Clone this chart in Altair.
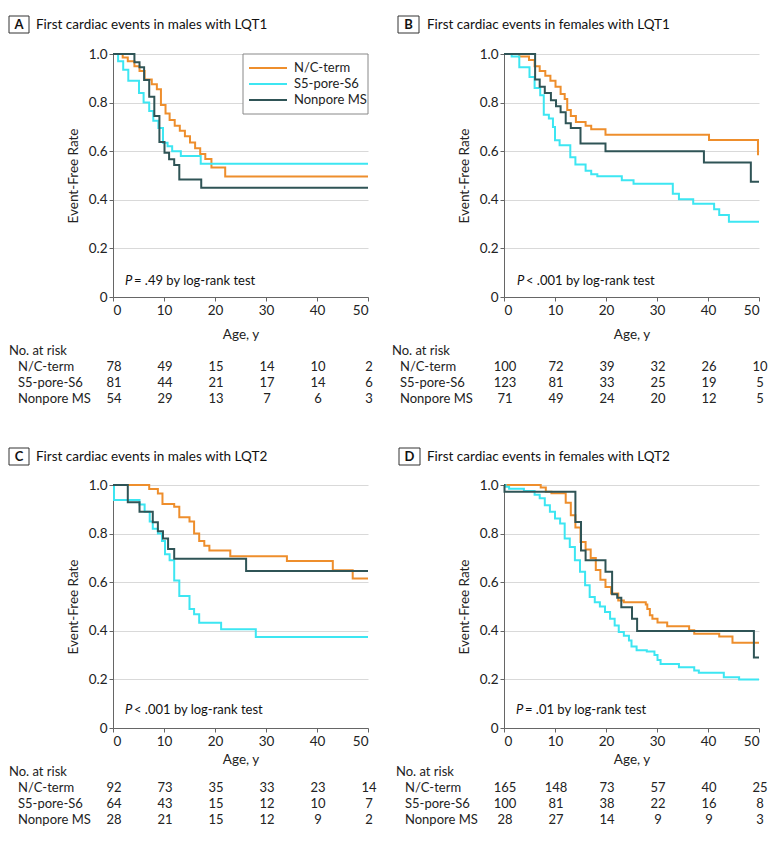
import altair as alt
import pandas as pd

FONT = "Lato"
GROUPS = ["N/C-term", "S5-pore-S6", "Nonpore MS"]
COLORS = ["#EE8E2C", "#3DE6F2", "#2F5456"]
RISK_AGES = [0, 10, 20, 30, 40, 50]

# ---------------- Panel A: males LQT1 ----------------
A_NC_AGE = [0, 1.9, 2.9, 4.2, 5.2, 6.2, 7.6, 8.6, 9.4, 10.3, 11.1, 12.1, 13.1, 14.1, 15.1, 16.1, 17.1, 18.1, 19.3, 22.0, 50]
A_NC_RATE = [1, 0.986, 0.97, 0.95, 0.93, 0.895, 0.876, 0.855, 0.79, 0.755, 0.728, 0.705, 0.684, 0.662, 0.636, 0.612, 0.588, 0.568, 0.533, 0.496, 0.496]
A_S5_AGE = [0, 1.0, 2.0, 3.0, 5.1, 6.0, 7.1, 7.9, 8.9, 9.8, 10.7, 11.6, 13.3, 17.2, 50]
A_S5_RATE = [1, 0.97, 0.935, 0.89, 0.84, 0.80, 0.765, 0.725, 0.695, 0.635, 0.62, 0.60, 0.58, 0.548, 0.548]
A_NP_AGE = [0, 4.2, 5.2, 6.1, 7.1, 8.1, 9.1, 10.1, 11.0, 12.0, 13.0, 17.3, 50]
A_NP_RATE = [1, 0.966, 0.945, 0.893, 0.824, 0.745, 0.638, 0.594, 0.567, 0.543, 0.484, 0.45, 0.45]
A_RISK_NC = [78, 49, 15, 14, 10, 2]
A_RISK_S5 = [81, 44, 21, 17, 14, 6]
A_RISK_NP = [54, 29, 13, 7, 6, 3]

# ---------------- Panel B: females LQT1 ----------------
B_NC_AGE = [0, 3.0, 4.9, 6.0, 7.0, 8.1, 9.1, 10.1, 11.1, 11.9, 12.4, 13.1, 14.1, 16.0, 17.1, 19.9, 40.2, 49.8, 50]
B_NC_RATE = [1, 0.99, 0.975, 0.95, 0.93, 0.91, 0.89, 0.865, 0.835, 0.815, 0.77, 0.745, 0.72, 0.705, 0.69, 0.668, 0.646, 0.587, 0.587]
B_S5_AGE = [0, 1.5, 3.0, 5.0, 6.0, 7.1, 7.8, 8.8, 9.6, 10.0, 10.9, 13.0, 14.0, 16.0, 17.1, 18.3, 23.1, 25.4, 33.1, 34.3, 37.1, 41.2, 42.2, 44.1, 50]
B_S5_RATE = [1, 0.99, 0.945, 0.905, 0.86, 0.83, 0.75, 0.735, 0.70, 0.645, 0.625, 0.575, 0.545, 0.52, 0.505, 0.497, 0.48, 0.466, 0.425, 0.402, 0.384, 0.361, 0.337, 0.31, 0.31]
B_NP_AGE = [0, 6.1, 7.0, 8.0, 9.2, 10.2, 11.1, 12.1, 13.1, 15.0, 19.9, 39.2, 48.4, 50]
B_NP_RATE = [1, 0.895, 0.865, 0.84, 0.81, 0.785, 0.76, 0.715, 0.695, 0.632, 0.60, 0.553, 0.474, 0.474]
B_RISK_NC = [100, 72, 39, 32, 26, 10]
B_RISK_S5 = [123, 81, 33, 25, 19, 5]
B_RISK_NP = [71, 49, 24, 20, 12, 5]

# ---------------- Panel C: males LQT2 ----------------
C_NC_AGE = [0, 7.1, 8.8, 9.7, 12.0, 13.0, 15.0, 15.9, 16.9, 17.9, 18.9, 23.0, 34.1, 43.1, 47.0, 50]
C_NC_RATE = [1, 0.984, 0.965, 0.922, 0.911, 0.867, 0.85, 0.80, 0.77, 0.75, 0.73, 0.707, 0.687, 0.649, 0.615, 0.615]
C_S5_AGE = [0, 0.2, 5.2, 6.2, 7.2, 7.8, 8.8, 9.6, 10.2, 11.1, 12.0, 13.0, 15.0, 15.9, 16.9, 21.2, 28.0, 50]
C_S5_RATE = [1, 0.938, 0.92, 0.89, 0.85, 0.82, 0.80, 0.77, 0.715, 0.69, 0.607, 0.543, 0.49, 0.468, 0.433, 0.406, 0.374, 0.374]
C_NP_AGE = [0, 2.9, 5.2, 7.8, 8.8, 9.8, 10.8, 12.0, 26.1, 50]
C_NP_RATE = [1, 0.929, 0.89, 0.847, 0.81, 0.78, 0.737, 0.696, 0.646, 0.646]
C_RISK_NC = [92, 73, 35, 33, 23, 14]
C_RISK_S5 = [64, 43, 15, 12, 10, 7]
C_RISK_NP = [28, 21, 15, 12, 9, 2]

# ---------------- Panel D: females LQT2 ----------------
D_NC_AGE = [0, 7.2, 8.2, 9.3, 12.1, 13.1, 14.0, 15.0, 16.0, 17.0, 18.0, 18.9, 19.9, 21.0, 22.4, 23.5, 27.8, 28.1, 28.6, 29.1, 30.1, 32.0, 36.3, 37.3, 42.2, 44.8, 50]
D_NC_RATE = [1, 0.99, 0.972, 0.966, 0.927, 0.876, 0.825, 0.765, 0.735, 0.70, 0.65, 0.61, 0.58, 0.553, 0.525, 0.518, 0.508, 0.49, 0.464, 0.45, 0.434, 0.419, 0.402, 0.388, 0.377, 0.351, 0.351]
D_S5_AGE = [0, 0.3, 1.0, 3.9, 6.0, 7.0, 8.0, 9.0, 10.0, 11.0, 11.9, 12.9, 13.9, 14.9, 15.9, 16.8, 17.8, 18.8, 19.8, 20.8, 21.7, 22.5, 23.5, 24.5, 25.0, 26.0, 28.0, 29.5, 30.1, 30.7, 34.3, 37.3, 38.2, 43.1, 46.1, 50]
D_S5_RATE = [1, 0.993, 0.985, 0.975, 0.96, 0.945, 0.917, 0.89, 0.862, 0.842, 0.78, 0.745, 0.69, 0.643, 0.587, 0.539, 0.518, 0.50, 0.477, 0.45, 0.422, 0.395, 0.38, 0.36, 0.335, 0.32, 0.315, 0.30, 0.28, 0.263, 0.25, 0.237, 0.227, 0.209, 0.20, 0.20]
D_NP_AGE = [0, 0.1, 14.0, 15.1, 16.0, 19.9, 21.2, 22.2, 23.0, 25.1, 26.1, 49.0, 50]
D_NP_RATE = [1, 0.972, 0.848, 0.73, 0.69, 0.643, 0.55, 0.536, 0.497, 0.45, 0.399, 0.29, 0.29]
D_RISK_NC = [165, 148, 73, 57, 40, 25]
D_RISK_S5 = [100, 81, 38, 22, 16, 8]
D_RISK_NP = [28, 27, 14, 9, 9, 3]

PANELS = [
    dict(letter="A", title="First cardiac events in males with LQT1", p="= .49 by log-rank test",
         series=[(A_NC_AGE, A_NC_RATE), (A_S5_AGE, A_S5_RATE), (A_NP_AGE, A_NP_RATE)],
         risk=[A_RISK_NC, A_RISK_S5, A_RISK_NP], legend=True,
         box=(-104, -84), ty=-29.5, hx=-104, lx=-95, row0=313, xtp=11, px=12, py=227),
    dict(letter="B", title="First cardiac events in females with LQT1", p="< .001 by log-rank test",
         series=[(B_NC_AGE, B_NC_RATE), (B_S5_AGE, B_S5_RATE), (B_NP_AGE, B_NP_RATE)],
         risk=[B_RISK_NC, B_RISK_S5, B_RISK_NP], legend=False,
         box=(-106, -85), ty=-29.5, hx=-112, lx=-104, row0=313, xtp=11, px=13, py=227),
    dict(letter="C", title="First cardiac events in males with LQT2", p="< .001 by log-rank test",
         series=[(C_NC_AGE, C_NC_RATE), (C_S5_AGE, C_S5_RATE), (C_NP_AGE, C_NP_RATE)],
         risk=[C_RISK_NC, C_RISK_S5, C_RISK_NP], legend=False,
         box=(-104, -84), ty=-28.5, hx=-104, lx=-95, row0=303, xtp=5, px=12, py=225),
    dict(letter="D", title="First cardiac events in females with LQT2", p="= .01 by log-rank test",
         series=[(D_NC_AGE, D_NC_RATE), (D_S5_AGE, D_S5_RATE), (D_NP_AGE, D_NP_RATE)],
         risk=[D_RISK_NC, D_RISK_S5, D_RISK_NP], legend=False,
         box=(-105, -84), ty=-28.5, hx=-108, lx=-99, row0=303, xtp=5, px=12, py=225),
]

W, H = 255, 243
ROW_STEP = 16
TABLE_FS = 13
AXIS_FS = 13.5


def make_panel(cfg):
    km_rows = []
    for g, (ages, rates) in zip(GROUPS, cfg["series"]):
        for a, r in zip(ages, rates):
            km_rows.append({"group": g, "age": a, "rate": r})
    km_df = pd.DataFrame(km_rows)

    risk_rows = []
    for i, (g, counts) in enumerate(zip(GROUPS, cfg["risk"])):
        for a, n in zip(RISK_AGES, counts):
            risk_rows.append({"group": g, "row": i, "age": a, "n": n})
    risk_df = pd.DataFrame(risk_rows)
    label_df = pd.DataFrame({"group": GROUPS, "row": [0, 1, 2]})
    head_df = pd.DataFrame({"t": ["No. at risk"], "row": [-1]})
    one = pd.DataFrame({"k": [0]})

    color_scale = alt.Scale(domain=GROUPS, range=COLORS)
    x_enc = alt.X("age:Q", scale=alt.Scale(domain=[0, 50], nice=False),
                  axis=alt.Axis(values=RISK_AGES, title="Age, y", grid=False, tickSize=4,
                                labelPadding=2, titlePadding=cfg["xtp"]))
    row_scale = alt.Scale(domain=[0, 2], range=[cfg["row0"], cfg["row0"] + 2 * ROW_STEP], nice=False, zero=False)

    lines = alt.Chart(km_df).mark_line(interpolate="step-after", strokeWidth=2).encode(
        x=x_enc,
        y=alt.Y("rate:Q", scale=alt.Scale(domain=[0, 1], nice=False),
                axis=alt.Axis(values=[0, 0.2, 0.4, 0.6, 0.8, 1.0],
                              labelExpr="datum.value === 0 ? '0' : format(datum.value, '.1f')",
                              title="Event-Free Rate", grid=True, tickSize=4, titlePadding=8)),
        color=alt.Color("group:N", scale=color_scale, legend=None),
        detail="group:N",
    )

    nums = alt.Chart(risk_df).mark_text(fontSize=TABLE_FS, align="center", baseline="middle", dx=1,
                                        color="#222").encode(
        x=x_enc,
        y=alt.Y("row:Q", scale=row_scale, axis=None),
        text="n:Q",
    )
    labels = alt.Chart(label_df).mark_text(fontSize=TABLE_FS, align="left", baseline="middle",
                                           color="#222").encode(
        x=alt.value(cfg["lx"]),
        y=alt.Y("row:Q", scale=row_scale, axis=None),
        text="group:N",
    )
    header = alt.Chart(head_df).mark_text(fontSize=TABLE_FS, align="left", baseline="middle",
                                          color="#222").encode(
        x=alt.value(cfg["hx"]),
        y=alt.Y("row:Q", scale=row_scale, axis=None),
        text="t:N",
    )

    bx0, bx1 = cfg["box"]
    ty = cfg["ty"]
    box = alt.Chart(one).mark_rect(fill="white", stroke="#333", strokeWidth=1).encode(
        x=alt.value(bx0), x2=alt.value(bx1), y=alt.value(ty - 8.5), y2=alt.value(ty + 8.5))
    letter = alt.Chart(one).mark_text(fontSize=13, fontWeight="bold", align="center", baseline="middle",
                                      color="#111").encode(
        x=alt.value((bx0 + bx1) / 2), y=alt.value(ty), text=alt.value(cfg["letter"]))
    title = alt.Chart(one).mark_text(fontSize=13.5, align="left", baseline="middle", color="#111").encode(
        x=alt.value(-77), y=alt.value(ty), text=alt.value(cfg["title"]))
    p1 = alt.Chart(one).mark_text(fontSize=13, fontStyle="italic", align="left", baseline="middle",
                                  color="#111").encode(
        x=alt.value(cfg["px"]), y=alt.value(cfg["py"]), text=alt.value("P"))
    p2 = alt.Chart(one).mark_text(fontSize=13, align="left", baseline="middle", color="#111").encode(
        x=alt.value(cfg["px"] + 9), y=alt.value(cfg["py"]), text=alt.value(cfg["p"]))

    layers = [lines, nums, labels, header, box, letter, title, p1, p2]

    if cfg["legend"]:
        leg_row = alt.Scale(domain=[0, 2], range=[14, 46], nice=False, zero=False)
        leg_df = pd.DataFrame({"group": GROUPS, "row": [0, 1, 2]})
        leg_box = alt.Chart(one).mark_rect(fill="white", stroke="#888", strokeWidth=1).encode(
            x=alt.value(W - 125), x2=alt.value(W), y=alt.value(0), y2=alt.value(60))
        leg_lines = alt.Chart(leg_df).mark_rule(strokeWidth=2).encode(
            x=alt.value(W - 119), x2=alt.value(W - 81),
            y=alt.Y("row:Q", scale=leg_row, axis=None),
            color=alt.Color("group:N", scale=color_scale, legend=None),
        )
        leg_text = alt.Chart(leg_df).mark_text(fontSize=13, align="left", baseline="middle",
                                               color="#222").encode(
            x=alt.value(W - 74),
            y=alt.Y("row:Q", scale=leg_row, axis=None),
            text="group:N",
        )
        layers += [leg_box, leg_lines, leg_text]

    return alt.layer(*layers).resolve_scale(y="independent").properties(width=W, height=H)


pa, pb, pc, pd_ = [make_panel(c) for c in PANELS]

row1 = alt.hconcat(pa, pb, spacing=19)
row2 = alt.hconcat(pc, pd_, spacing=19)

chart = alt.vconcat(row1, row2, spacing=41).properties(
    padding={"left": 0, "top": 7, "right": 0, "bottom": 0}
).configure_view(stroke=None).configure_axis(
    labelFont=FONT, titleFont=FONT, labelFontSize=AXIS_FS, titleFontSize=13.5, titleFontWeight="normal",
    labelColor="#222", titleColor="#222", domainColor="#666", tickColor="#666", gridColor="#d9d9d9"
).configure_text(font=FONT)

chart.save("out.html", embed_options={"renderer": "svg", "actions": False})
